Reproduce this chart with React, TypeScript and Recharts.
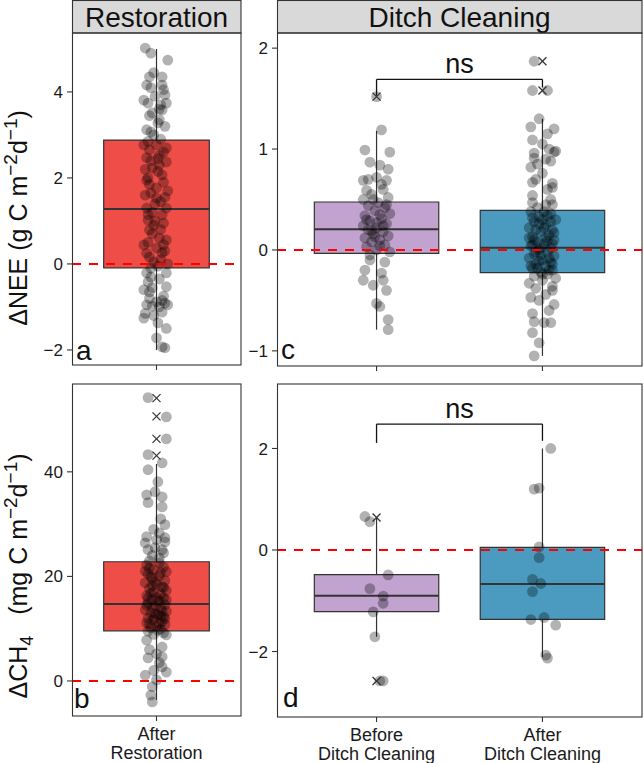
import React from "react";
import {
  ComposedChart,
  Scatter,
  XAxis,
  YAxis,
  ReferenceArea,
  ReferenceLine,
} from "recharts";

const FONT = "'Liberation Sans', Arial, Helvetica, sans-serif";

const restCats = ["After\nRestoration"];
const ditchCats = ["Before\nDitch Cleaning", "After\nDitch Cleaning"];

// box stats: [lower whisker, q1, median, q3, upper whisker]
const neeRestBox = [[-2.0, -0.09, 1.28, 2.88, 5.0]];
const ch4RestBox = [[-3.6, 9.6, 14.7, 22.8, 41.5]];
const neeDitchBox = [
  [-0.79, -0.033, 0.205, 0.475, 1.18],
  [-1.05, -0.225, 0.023, 0.393, 1.3],
];
const ch4DitchBox = [
  [-1.71, -1.215, -0.9, -0.487, 0.64],
  [-2.11, -1.365, -0.67, 0.05, 2.0],
];

const restFill = ["#EF4E48"];
const ditchFill = ["#C2A2CE", "#4A9BBF"];

// outliers (x marks) per category
const neeRestOut: number[][] = [[]];
const ch4RestOut = [[54.1, 50.6, 46.3, 43.1]];
const neeDitchOut = [[1.52], [1.58, 1.87]];
const ch4DitchOut = [[0.64, -2.58], []];

// jittered observations: [offset from category, value]
const neeRestPts: number[][] = [
  [-0.08, 5.02], [-0.04, 4.9], [0.08, 4.74], [-0.05, 4.35], [0.04, 4.35], [-0.07, 4.16],
  [0.04, 4.16], [0.06, 3.93], [-0.09, 3.81], [-0.06, 3.74], [0.07, 3.74], [0.04, 3.58],
  [-0.03, 3.51], [0.02, 3.35], [0.01, 3.28], [-0.07, 3.12], [-0.04, 3.07], [-0.09, 2.77],
  [0.0, 2.77], [0.07, 2.7], [-0.07, 2.47], [0.02, 2.53], [-0.03, 2.23], [0.07, 2.37],
  [-0.06, 2.0], [0.04, 2.07], [0.0, 1.77], [-0.04, 1.65], [0.0, 1.53], [-0.07, 1.3],
  [0.07, 1.3], [-0.06, 1.02], [0.04, 1.14], [-0.05, 0.79], [0.07, 0.56], [-0.09, 0.44],
  [0.0, 0.37], [-0.05, 0.16], [0.04, 0.26], [-0.07, -0.21], [0.07, -0.21], [-0.09, -0.6],
  [0.07, -0.53], [-0.06, -0.42], [0.0, -0.88], [-0.07, -0.95], [0.06, -0.91], [-0.09, -1.26],
  [0.04, -1.12], [0.01, -1.37], [0.0, -1.72], [0.06, -1.95], [0.04, -1.93],
  [-0.02, 4.45], [0.05, 4.05], [-0.01, 3.9], [0.03, 3.7], [-0.05, 3.45], [0.06, 3.2],
  [-0.02, 3.0], [0.03, 2.9], [-0.06, 2.85], [0.05, 2.6], [-0.04, 2.4], [-0.08, 2.2],
  [0.01, 2.15], [0.05, 1.9], [-0.05, 1.85], [0.08, 1.7], [-0.08, 1.6], [0.03, 1.45],
  [-0.03, 1.2], [0.05, 0.95], [-0.02, 0.9], [0.02, 0.6], [-0.06, 0.5], [0.03, 0.1],
  [-0.02, 0.05], [0.08, 0.0], [-0.04, -0.1], [0.02, -0.35], [-0.03, -0.55], [0.05, -0.75],
  [-0.05, -0.8], [0.02, -1.0], [-0.08, -1.15], [0.08, -0.95], [-0.02, -1.2], [0.07, -1.5],
  [-0.04, -0.3], [0.01, 2.45], [-0.01, 1.0], [0.06, 0.3],
  [-0.05, 2.65], [0.02, 2.3], [-0.07, 1.95], [0.06, 1.55], [-0.01, 1.4], [-0.06, 1.15],
  [0.03, 0.8], [-0.03, 0.7], [0.05, 0.45], [-0.07, 0.25], [0.01, -0.05], [-0.05, -0.65],
  [0.04, -0.85], [-0.03, -0.98], [0.02, 3.6], [-0.04, 4.1],
];

const ch4RestPts: number[][] = [
  [-0.06, 54.2], [0.07, 50.5], [0.07, 46.3], [-0.06, 43.3], [0.04, 41.7], [-0.06, 40.4],
  [0.01, 38.1], [-0.07, 35.6], [-0.01, 36.2], [0.04, 35.2], [-0.06, 34.1], [0.04, 33.3],
  [0.06, 29.9], [-0.07, 27.6], [0.02, 28.3], [0.06, 27.4], [-0.08, 26.4], [0.06, 26.6],
  [0.04, 25.1], [-0.06, 25.1], [-0.02, 29.0], [0.03, 31.0], [-0.03, 24.0], [0.02, 23.5],
  [-0.05, 23.0], [0.05, 24.5], [0.0, 27.0], [-0.01, 25.5],
  [-0.07, 22.2], [0.05, 21.8], [-0.02, 21.3], [0.07, 20.9], [-0.06, 20.5], [0.02, 20.1],
  [-0.03, 19.6], [0.06, 19.2], [-0.08, 18.8], [0.0, 18.5], [0.04, 18.0], [-0.05, 17.7],
  [0.07, 17.3], [-0.02, 17.0], [0.03, 16.6], [-0.07, 16.3], [0.05, 15.9], [-0.03, 15.6],
  [0.01, 15.2], [-0.06, 14.9], [0.06, 14.6], [-0.01, 14.3], [0.03, 13.9], [-0.08, 13.6],
  [0.07, 13.3], [-0.04, 13.0], [0.01, 12.7], [0.05, 12.3], [-0.06, 12.0], [-0.02, 11.7],
  [0.04, 11.4], [-0.07, 11.1], [0.06, 10.8], [0.0, 10.5], [-0.04, 10.2], [0.03, 9.9],
  [-0.06, 9.5], [0.05, 9.2], [-0.02, 8.9], [0.02, 22.6], [-0.04, 19.9], [0.0, 16.0],
  [-0.01, 12.9], [0.02, 11.0], [-0.03, 14.0], [0.07, 15.5], [-0.08, 21.0],
  [-0.05, 21.6], [0.03, 20.7], [-0.01, 19.0], [0.05, 17.9], [-0.04, 16.8], [0.02, 15.4],
  [-0.07, 14.5], [0.04, 13.4], [-0.02, 12.2], [0.06, 11.9], [-0.05, 10.9], [0.01, 9.7],
  [-0.03, 18.2], [0.03, 12.5], [-0.06, 15.8],
  [-0.07, 7.8], [0.07, 8.8], [-0.06, 4.4], [0.04, 4.6], [0.04, 2.7], [-0.08, 1.1],
  [0.07, 1.7], [-0.03, -1.1], [-0.04, -2.7], [-0.03, -4.0], [0.0, 0.2], [0.04, 6.5],
  [-0.05, 6.0], [0.0, 5.2], [0.02, 3.5], [-0.02, 2.0],
];

const neeBeforePts: number[][] = [
  [0.0, 1.52], [0.03, 1.19], [-0.07, 0.99], [0.08, 0.97], [-0.04, 0.87], [0.02, 0.84],
  [0.07, 0.8], [-0.08, 0.69], [0.0, 0.72], [0.06, 0.69], [-0.06, 0.59],
  [0.04, 0.6], [-0.03, 0.55], [0.07, 0.52], [-0.08, 0.5], [0.01, 0.47], [-0.05, 0.44],
  [0.05, 0.42], [-0.01, 0.39], [0.08, 0.36], [-0.07, 0.34], [0.03, 0.31], [-0.04, 0.29],
  [0.06, 0.26], [-0.08, 0.24], [0.0, 0.22], [-0.05, 0.2], [0.04, 0.18], [-0.02, 0.16],
  [0.07, 0.14], [-0.07, 0.12], [0.02, 0.1], [-0.03, 0.08], [0.05, 0.05], [-0.06, 0.03],
  [0.0, 0.0], [0.08, -0.02], [-0.04, -0.05], [0.03, 0.65], [-0.05, 0.7], [0.0, 0.27],
  [-0.01, 0.13], [0.02, 0.35], [-0.06, 0.3], [0.04, 0.24], [-0.03, 0.19], [0.06, 0.45],
  [-0.02, 0.5], [0.02, 0.04],
  [-0.07, -0.2], [-0.08, -0.3], [0.03, -0.23], [0.06, -0.4], [0.0, -0.53], [0.02, -0.56],
  [0.07, -0.69], [0.07, -0.79], [-0.04, -0.1], [0.05, -0.12], [-0.02, -0.35], [0.04, -0.3],
];

const neeAfterPts: number[][] = [
  [-0.05, 1.87], [-0.06, 1.58], [0.03, 1.58], [-0.02, 1.3], [-0.07, 1.22], [0.07, 1.2],
  [0.03, 1.15], [-0.06, 1.09], [0.07, 0.97], [-0.05, 0.96], [0.04, 1.0], [0.0, 0.76],
  [-0.06, 0.67], [0.06, 0.66], [-0.06, 0.54], [0.05, 0.5], [0.08, 0.98], [-0.05, 0.91],
  [-0.07, 0.82], [0.06, 0.45],
  [-0.07, 0.38], [0.05, 0.36], [-0.02, 0.33], [0.08, 0.3], [-0.05, 0.28], [0.02, 0.25],
  [-0.08, 0.22], [0.06, 0.2], [-0.01, 0.18], [0.04, 0.15], [-0.06, 0.13], [0.07, 0.1],
  [-0.03, 0.08], [0.01, 0.06], [-0.07, 0.04], [0.05, 0.02], [-0.02, 0.0], [0.03, -0.02],
  [-0.05, -0.04], [0.07, -0.06], [-0.08, -0.08], [0.0, -0.1], [0.05, -0.12], [-0.04, -0.14],
  [0.02, -0.16], [-0.06, -0.18], [0.06, -0.2], [-0.01, -0.22], [0.03, -0.24], [-0.05, -0.26],
  [0.08, -0.28], [-0.03, 0.42], [0.02, 0.45], [-0.06, 0.47], [0.06, 0.62], [-0.03, 0.85],
  [0.02, 0.9], [0.05, 0.88], [0.0, 1.05], [-0.04, 0.7], [0.03, 0.6], [-0.08, 0.12],
  [0.0, 0.3], [0.04, -0.08], [-0.04, 0.2], [0.02, 0.12], [-0.01, -0.05], [0.05, 0.28],
  [-0.03, -0.18], [0.01, 0.38], [-0.06, 0.05], [0.06, -0.14],
  [-0.02, 0.26], [0.03, 0.34], [-0.05, 0.1], [0.07, 0.17], [-0.01, 0.02], [0.04, -0.2],
  [-0.07, -0.16], [0.0, -0.24], [0.06, 0.06], [-0.04, -0.02], [0.01, 0.22], [-0.06, 0.32],
  [0.03, 0.09], [-0.02, -0.11],
  [-0.08, -0.33], [0.06, -0.4], [-0.07, -0.47], [0.07, -0.54], [-0.06, -0.63], [-0.05, -0.71],
  [0.01, -0.72], [0.05, -0.72], [-0.06, -0.82], [-0.02, -0.92], [-0.05, -1.05], [0.0, -0.3],
  [-0.02, -0.5], [0.04, -0.6], [0.06, -0.36], [-0.04, -0.38], [0.02, -0.44],
];

const ch4BeforePts: number[][] = [
  [-0.07, 0.66], [-0.04, 0.56], [0.07, -0.49], [-0.04, -0.76], [0.04, -0.91], [0.04, -1.05],
  [-0.02, -1.22], [-0.01, -1.71], [0.04, -2.58], [0.02, -2.58],
];
const ch4AfterPts: number[][] = [
  [0.05, 2.0], [-0.05, 1.2], [-0.02, 1.22], [-0.02, 0.06], [-0.02, -0.15], [-0.06, -0.58],
  [-0.01, -0.66], [-0.06, -0.82], [-0.07, -1.37], [0.01, -1.33], [0.08, -1.48], [0.02, -2.07],
  [0.03, -2.13],
];

const neeTicks = [-2, 0, 2, 4];
const ch4RestTicks = [0, 20, 40];
const neeDitchTicks = [-1, 0, 1, 2];
const ch4DitchTicks = [-2, 0, 2];

type Bracket = { top: number; left: number; right: number; label: number };

const Dot = (p: any) => (
  <circle cx={p.cx} cy={p.cy} r={5.4} fill="#000" fillOpacity={0.3} />
);
const XMark = (p: any) => (
  <g stroke="#333" strokeWidth={1.2}>
    <line x1={p.cx - 4} y1={p.cy - 4} x2={p.cx + 4} y2={p.cy + 4} />
    <line x1={p.cx - 4} y1={p.cy + 4} x2={p.cx + 4} y2={p.cy - 4} />
  </g>
);
const NsText = (p: any) => (
  <text x={p.cx} y={p.cy} textAnchor="middle" fontSize={27} fontFamily={FONT} fill="#111">
    ns
  </text>
);

function Panel(props: {
  left: number;
  top: number;
  width: number;
  height: number;
  marginTop: number;
  marginRight: number;
  yWidth: number;
  xHeight: number;
  yDomain: number[];
  yTicks: number[];
  cats: string[];
  showLabels: boolean;
  boxes: number[][];
  fills: string[];
  pts: number[][][];
  outs: number[][];
  bracket?: Bracket;
}) {
  const n = props.cats.length;
  const xDomain = [0.4, n + 0.6];
  const half = 0.375;
  const XTick = (t: any) => {
    if (!props.showLabels) return null;
    const lines = props.cats[Math.round(t.payload.value) - 1].split("\n");
    return (
      <text x={t.x} y={t.y} textAnchor="middle" fontSize={18} fontFamily={FONT} fill="#1a1a1a">
        {lines.map((l, i) => (
          <tspan key={i} x={t.x} dy={i === 0 ? 17 : 18.5}>
            {l}
          </tspan>
        ))}
      </text>
    );
  };
  return (
    <div style={{ position: "absolute", left: props.left, top: props.top }}>
      <ComposedChart
        width={props.width}
        height={props.height}
        margin={{ top: props.marginTop, right: props.marginRight, bottom: 0, left: 0 }}
      >
        <XAxis
          type="number"
          dataKey="x"
          domain={xDomain}
          allowDataOverflow
          ticks={props.cats.map((_, i) => i + 1)}
          interval={0}
          height={props.xHeight}
          axisLine={false}
          tickSize={5}
          tickMargin={2}
          tickLine={{ stroke: "#333", strokeWidth: 1.1 }}
          tick={<XTick />}
        />
        <YAxis
          type="number"
          dataKey="y"
          domain={props.yDomain}
          allowDataOverflow
          ticks={props.yTicks}
          interval={0}
          width={props.yWidth}
          axisLine={false}
          tickSize={5}
          tickMargin={4}
          tickLine={{ stroke: "#333", strokeWidth: 1.1 }}
          tick={{ fontSize: 17, fill: "#1a1a1a", fontFamily: FONT }}
          tickFormatter={(v: number) => String(v).replace("-", "\u2212")}
        />
        {props.boxes.map((b, i) => (
          <ReferenceLine
            key={"wl" + i}
            segment={[{ x: i + 1, y: b[0] }, { x: i + 1, y: b[4] }]}
            stroke="#333"
            strokeWidth={1.2}
            zIndex={10}
          />
        ))}
        {props.boxes.map((b, i) => (
          <ReferenceArea
            key={"bx" + i}
            x1={i + 1 - half}
            x2={i + 1 + half}
            y1={b[1]}
            y2={b[3]}
            fill={props.fills[i]}
            fillOpacity={1}
            stroke="#333"
            strokeWidth={1.2}
            zIndex={20}
          />
        ))}
        {props.boxes.map((b, i) => (
          <ReferenceLine
            key={"md" + i}
            segment={[{ x: i + 1 - half, y: b[2] }, { x: i + 1 + half, y: b[2] }]}
            stroke="#333"
            strokeWidth={2}
            zIndex={30}
          />
        ))}
        {props.pts.map((ps, i) => (
          <Scatter
            key={"pt" + i}
            data={ps.map((p) => ({ x: i + 1 + p[0], y: p[1] }))}
            shape={Dot}
            isAnimationActive={false}
            zIndex={40}
          />
        ))}
        <ReferenceLine
          y={0}
          stroke="#FF0000"
          strokeWidth={2}
          strokeDasharray="9 8"
          zIndex={50}
        />
        {props.outs.map((os, i) => (
          <Scatter
            key={"ou" + i}
            data={os.map((v) => ({ x: i + 1, y: v }))}
            shape={XMark}
            isAnimationActive={false}
            zIndex={60}
          />
        ))}
        {props.bracket && (
          <ReferenceLine
            segment={[{ x: 1, y: props.bracket.top }, { x: 2, y: props.bracket.top }]}
            stroke="#111"
            strokeWidth={1.3}
            zIndex={70}
          />
        )}
        {props.bracket && (
          <ReferenceLine
            segment={[{ x: 1, y: props.bracket.top }, { x: 1, y: props.bracket.left }]}
            stroke="#111"
            strokeWidth={1.3}
            zIndex={70}
          />
        )}
        {props.bracket && (
          <ReferenceLine
            segment={[{ x: 2, y: props.bracket.top }, { x: 2, y: props.bracket.right }]}
            stroke="#111"
            strokeWidth={1.3}
            zIndex={70}
          />
        )}
        {props.bracket && (
          <Scatter
            data={[{ x: 1.5, y: props.bracket.label }]}
            shape={NsText}
            isAnimationActive={false}
            zIndex={80}
          />
        )}
      </ComposedChart>
    </div>
  );
}

// superscript followed by the text that returns to the baseline
const sup = (t: string, next: string) => (
  <>
    <tspan dy={-10} fontSize={19}>{t}</tspan>
    <tspan dy={10}>{next}</tspan>
  </>
);

function Overlay() {
  return (
    <svg
      width={644}
      height={763}
      style={{ position: "absolute", left: 0, top: 0, pointerEvents: "none", zIndex: 5 }}
      fontFamily={FONT}
    >
      {/* strips */}
      <rect x={72.5} y={0.5} width={168.5} height={32.5} fill="#D9D9D9" stroke="#333" strokeWidth={1.1} />
      <rect x={277.5} y={0.5} width={364.5} height={32.5} fill="#D9D9D9" stroke="#333" strokeWidth={1.1} />
      <text x={156.5} y={27} textAnchor="middle" fontSize={28} fill="#111">Restoration</text>
      <text x={459.5} y={27} textAnchor="middle" fontSize={28} fill="#111">Ditch Cleaning</text>
      {/* panel borders */}
      <rect x={72.5} y={33} width={168.5} height={332} fill="none" stroke="#333" strokeWidth={1.1} />
      <rect x={277.5} y={33} width={364.5} height={333} fill="none" stroke="#333" strokeWidth={1.1} />
      <rect x={72.5} y={384} width={168.5} height={332} fill="none" stroke="#333" strokeWidth={1.1} />
      <rect x={277.5} y={384} width={364.5} height={333} fill="none" stroke="#333" strokeWidth={1.1} />
      {/* panel letters */}
      <text x={76} y={360} fontSize={28} fill="#111">a</text>
      <text x={74} y={708} fontSize={28} fill="#111">b</text>
      <text x={281} y={359} fontSize={28} fill="#111">c</text>
      <text x={283} y={707} fontSize={28} fill="#111">d</text>
      {/* y titles */}
      <text transform="translate(27 218) rotate(-90)" textAnchor="middle" fontSize={25} fill="#111">
        {"\u0394NEE (g C m"}
        {sup("\u22122", "d")}
        {sup("\u22121", ")")}
      </text>
      <text transform="translate(27 576) rotate(-90)" textAnchor="middle" fontSize={25} fill="#111">
        {"\u0394CH"}
        <tspan dy={6} fontSize={18}>4</tspan>
        <tspan dy={-6}>{"\u00A0\u00A0\u00A0(mg C m"}</tspan>
        {sup("\u22122", "d")}
        {sup("\u22121", ")")}
      </text>
    </svg>
  );
}

export default function App() {
  return (
    <div style={{ position: "absolute", left: 0, top: 0, width: 644, height: 763, background: "#fff" }}>
      <Panel
        left={0} top={0} width={245} height={376} marginTop={33} marginRight={4}
        yWidth={72} xHeight={11} yDomain={[-2.35, 5.37]} yTicks={neeTicks}
        cats={restCats} showLabels={false} boxes={neeRestBox} fills={restFill}
        pts={[neeRestPts]} outs={neeRestOut}
      />
      <Panel
        left={245} top={0} width={399} height={377} marginTop={33} marginRight={2}
        yWidth={32} xHeight={11} yDomain={[-1.15, 2.15]} yTicks={neeDitchTicks}
        cats={ditchCats} showLabels={false} boxes={neeDitchBox} fills={ditchFill}
        pts={[neeBeforePts, neeAfterPts]} outs={neeDitchOut}
        bracket={{ top: 1.69, left: 1.53, right: 1.61, label: 1.75 }}
      />
      <Panel
        left={0} top={376} width={245} height={387} marginTop={8} marginRight={4}
        yWidth={72} xHeight={47} yDomain={[-6.7, 56.8]} yTicks={ch4RestTicks}
        cats={restCats} showLabels={true} boxes={ch4RestBox} fills={restFill}
        pts={[ch4RestPts]} outs={ch4RestOut}
      />
      <Panel
        left={245} top={376} width={399} height={387} marginTop={8} marginRight={2}
        yWidth={32} xHeight={46} yDomain={[-3.29, 3.27]} yTicks={ch4DitchTicks}
        cats={ditchCats} showLabels={true} boxes={ch4DitchBox} fills={ditchFill}
        pts={[ch4BeforePts, ch4AfterPts]} outs={ch4DitchOut}
        bracket={{ top: 2.48, left: 2.11, right: 2.15, label: 2.6 }}
      />
      <Overlay />
    </div>
  );
}
